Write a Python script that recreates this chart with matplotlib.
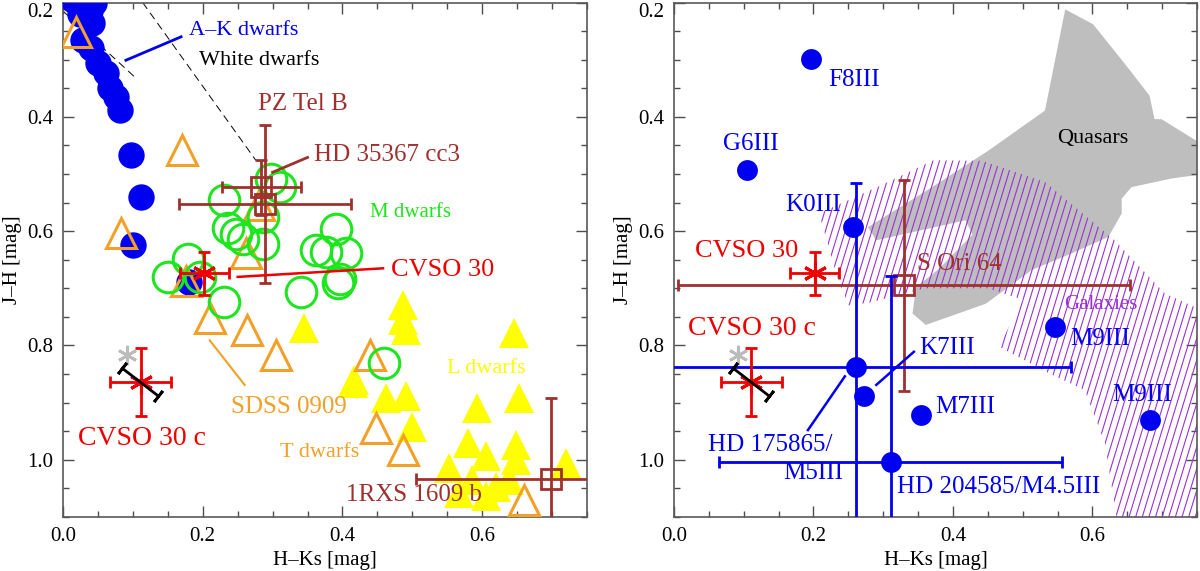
import numpy as np
import matplotlib
matplotlib.use('Agg')
import matplotlib.pyplot as plt
from matplotlib.patches import Polygon

plt.rcParams['font.family'] = ['Liberation Serif', 'DejaVu Serif']

# ---------------- left panel: dwarf sequences ----------------
ak_hk = [0.015, 0.045, 0.024, 0.038, 0.042, 0.029, 0.040, 0.050, 0.062, 0.067,
         0.076, 0.081, 0.098, 0.112, 0.100, 0.181]
ak_jh = [0.195, 0.200, 0.220, 0.215, 0.235, 0.266, 0.280, 0.305, 0.324, 0.350,
         0.365, 0.388, 0.467, 0.540, 0.625, 0.689]

m_hk = [0.298, 0.310, 0.231, 0.286, 0.236, 0.247, 0.257, 0.286, 0.391, 0.362,
        0.377, 0.405, 0.396, 0.341, 0.179, 0.150, 0.196, 0.231, 0.460, 0.393]
m_jh = [0.508, 0.523, 0.546, 0.575, 0.595, 0.605, 0.613, 0.622, 0.596, 0.633,
        0.636, 0.639, 0.683, 0.706, 0.648, 0.680, 0.680, 0.724, 0.831, 0.691]

t_hk = [0.019, 0.170, 0.083, 0.281, 0.262, 0.176, 0.210, 0.264, 0.305, 0.439,
        0.448, 0.486, 0.660]
t_jh = [0.252, 0.458, 0.603, 0.555, 0.639, 0.688, 0.752, 0.773, 0.816, 0.817,
        0.945, 0.983, 1.070]

l_hk = [0.486, 0.486, 0.491, 0.345, 0.646, 0.417, 0.462, 0.491, 0.500, 0.593,
        0.653, 0.553, 0.579, 0.605, 0.586, 0.620, 0.648, 0.648, 0.639, 0.720,
        0.567, 0.605, 0.415]
l_jh = [0.730, 0.756, 0.773, 0.770, 0.779, 0.860, 0.892, 0.889, 0.943, 0.910,
        0.892, 1.015, 0.971, 0.994, 1.035, 1.047, 0.974, 1.000, 1.035, 1.006,
        1.058, 1.064, 0.866]

# white dwarf tracks (dashed)
wd1_hk = [0.114, 0.276]
wd1_jh = [0.200, 0.476]
wd2_hk = [0.000, 0.105]
wd2_jh = [0.215, 0.333]

# brown companions: PZ Tel B, HD 35367 cc3, 1RXS 1609 b
comp_hk = [0.289, 0.284, 0.698]
comp_jh = [0.552, 0.523, 1.033]
comp_hkerr = [0.123, 0.057, 0.193]
comp_jherr = [0.138, 0.048, 0.141]

# CVSO 30 and CVSO 30 c
cvso_hk = [0.202, 0.111]
cvso_jh = [0.674, 0.864]
cvso_hkerr = [0.035, 0.044]
cvso_jherr = [0.038, 0.060]
cvso_c_vec_hk = [0.085, 0.136]
cvso_c_vec_jh = [0.840, 0.888]
grey_hk = [0.092]
grey_jh = [0.816]

# ---------------- right panel: giants, quasars, galaxies ----------------
giant_names = ['F8III', 'G6III', 'K0III', 'HD 175865', 'K7III', 'M7III',
               'M9III', 'M9III b', 'HD 204585']
giant_hk = [0.196, 0.105, 0.257, 0.261, 0.273, 0.354, 0.547, 0.683, 0.311]
giant_jh = [0.298, 0.493, 0.592, 0.837, 0.889, 0.921, 0.767, 0.930, 1.003]
giant_err_hk = [0.261, 0.311]
giant_err_jh = [0.837, 1.003]
giant_hkerr = [0.309, 0.246]
giant_jherr = [0.321, 0.324]

sori_hk = [0.330]
sori_jh = [0.695]
sori_hkerr = [0.324]
sori_jherr = [0.185]

quasar_hk = [0.278, 0.370, 0.451, 0.532, 0.561, 0.601, 0.647, 0.682, 0.689, 0.699,
             0.760, 0.760, 0.713, 0.656, 0.642, 0.642, 0.623, 0.570, 0.513, 0.447,
             0.361, 0.342, 0.347, 0.380, 0.428, 0.418, 0.290]
quasar_jh = [0.593, 0.523, 0.459, 0.389, 0.212, 0.238, 0.308, 0.363, 0.404, 0.404,
             0.450, 0.500, 0.508, 0.523, 0.543, 0.569, 0.610, 0.639, 0.668, 0.727,
             0.764, 0.744, 0.698, 0.666, 0.606, 0.581, 0.616]

galaxy_hk = [0.208, 0.293, 0.372, 0.442, 0.532, 0.632, 0.704, 0.760, 0.760, 0.637,
             0.618, 0.589, 0.540, 0.466, 0.500, 0.450, 0.360, 0.280, 0.250, 0.234]
galaxy_jh = [0.569, 0.522, 0.476, 0.477, 0.514, 0.616, 0.709, 0.740, 1.120, 1.120,
             0.971, 0.878, 0.850, 0.802, 0.720, 0.700, 0.700, 0.725, 0.730, 0.680]

BLUE = '#0000F0'
GREEN = '#1EE61E'
ORANGE = '#F2A028'
YELLOW = '#FFFF00'
BROWN = '#A0302E'
RED = '#EE0000'
PURPLE = '#9B30D9'
GREYFILL = '#BEBEBE'


def style_axes(ax):
    ax.set_xlim(0, 0.75)
    ax.set_ylim(1.1, 0.2)
    ax.set_xticks([0.0, 0.2, 0.4, 0.6])
    ax.set_xticks(np.arange(0, 0.76, 0.05), minor=True)
    ax.set_yticks([0.2, 0.4, 0.6, 0.8, 1.0])
    ax.set_yticks(np.arange(0.2, 1.11, 0.05), minor=True)
    ax.set_xticklabels(['0.0', '0.2', '0.4', '0.6'])
    ax.set_yticklabels(['0.2', '0.4', '0.6', '0.8', '1.0'])
    ax.get_yticklabels()[0].set_va('top')
    ax.tick_params(which='both', direction='in', top=True, right=True,
                   labelsize=15, color='0.3', pad=7)
    ax.tick_params(which='major', length=8, width=1)
    ax.tick_params(which='minor', length=4, width=1)
    for sp in ax.spines.values():
        sp.set_color('0.35')
        sp.set_linewidth(1.2)
    ax.set_xlabel('H\u2013Ks [mag]', fontsize=15, labelpad=4)
    ax.set_ylabel('J\u2013H [mag]', fontsize=15, labelpad=4)


def draw_cvso(ax):
    ax.plot(grey_hk, grey_jh, ls='none', marker=(6, 2, 0), ms=14, mew=2,
            color='#BBBBBB', zorder=6)
    ax.errorbar(cvso_hk, cvso_jh, xerr=cvso_hkerr, yerr=cvso_jherr, fmt='none',
                ecolor=RED, elinewidth=2, capsize=4, capthick=2, zorder=7)
    ax.plot(cvso_hk, cvso_jh, ls='none', marker=(6, 2, 0), ms=17, mew=2.2,
            color=RED, zorder=8)
    ax.plot(cvso_c_vec_hk, cvso_c_vec_jh, color='black', lw=2, zorder=9)
    ax.plot(cvso_c_vec_hk, cvso_c_vec_jh, ls='none', marker=(2, 2, -38),
            ms=10, mew=2, color='black', zorder=9)


def left_panel(ax):
    ax.plot(wd1_hk, wd1_jh, color='black', lw=0.7, ls=(0, (8, 5)), zorder=1)
    ax.plot(wd2_hk, wd2_jh, color='black', lw=0.7, ls=(0, (8, 5)), zorder=1)
    ax.plot(l_hk, l_jh, ls='none', marker='^', ms=21, color=YELLOW, mew=0, zorder=2)
    ax.plot(ak_hk, ak_jh, ls='none', marker='o', ms=19, color=BLUE, mew=0, zorder=3)
    ax.plot(t_hk, t_jh, ls='none', marker='^', ms=22, mfc='none', mec=ORANGE,
            mew=2.2, zorder=4)
    ax.plot(m_hk, m_jh, ls='none', marker='o', ms=22, mfc='none', mec=GREEN,
            mew=2.2, zorder=5)
    ax.errorbar(comp_hk, comp_jh, xerr=comp_hkerr, yerr=comp_jherr, fmt='none',
                ecolor=BROWN, elinewidth=2, capsize=4, capthick=2, zorder=6)
    ax.plot(comp_hk, comp_jh, ls='none', marker='s', ms=15, mfc='none', mec=BROWN,
            mew=2, zorder=6)
    draw_cvso(ax)

    # pointers
    ax.plot([0.090, 0.169], [0.301, 0.260], color=BLUE, lw=2, zorder=9)
    ax.plot([0.300, 0.350], [0.497, 0.471], color=BROWN, lw=2, zorder=9)
    ax.plot([0.250, 0.458], [0.680, 0.665], color=RED, lw=1.8, zorder=9)
    ax.plot([0.210, 0.260], [0.791, 0.869], color=ORANGE, lw=1.5, zorder=9)

    txt = [('A\u2013K dwarfs', 0.181, 0.249, BLUE, 16),
           ('White dwarfs', 0.195, 0.301, 'black', 16),
           ('PZ Tel B', 0.279, 0.377, BROWN, 18),
           ('HD 35367 cc3', 0.359, 0.467, BROWN, 18),
           ('M dwarfs', 0.439, 0.568, GREEN, 15),
           ('CVSO 30', 0.469, 0.668, RED, 19),
           ('SDSS 0909', 0.241, 0.907, ORANGE, 18),
           ('CVSO 30 c', 0.021, 0.962, RED, 20),
           ('T dwarfs', 0.310, 0.987, ORANGE, 16),
           ('L dwarfs', 0.550, 0.840, YELLOW, 16),
           ('1RXS 1609 b', 0.405, 1.061, BROWN, 18)]
    for s, x, y, c, fs in txt:
        ax.text(x, y, s, color=c, fontsize=fs, ha='left', va='center', zorder=10)
    style_axes(ax)


def right_panel(ax):
    quasars = Polygon(np.column_stack([quasar_hk, quasar_jh]), closed=True,
                      facecolor=GREYFILL, edgecolor='none', zorder=1)
    ax.add_patch(quasars)
    galaxies = Polygon(np.column_stack([galaxy_hk, galaxy_jh]), closed=True,
                       facecolor='none', edgecolor='none', zorder=2)
    ax.add_patch(galaxies)
    # steep purple hatching clipped to the galaxy region
    for x0 in np.arange(-0.35, 0.80, 0.0095):
        ln, = ax.plot([x0, x0 + 0.235], [1.12, 0.18], color=PURPLE, lw=0.8,
                      zorder=2)
        ln.set_clip_path(galaxies)

    ax.errorbar(sori_hk, sori_jh, xerr=sori_hkerr, yerr=sori_jherr, fmt='none',
                ecolor=BROWN, elinewidth=2, capsize=4, capthick=2, zorder=4)
    ax.plot(sori_hk, sori_jh, ls='none', marker='s', ms=15, mfc='none', mec=BROWN,
            mew=2, zorder=4)
    ax.errorbar(giant_err_hk, giant_err_jh, xerr=giant_hkerr, yerr=giant_jherr,
                fmt='none', ecolor=BLUE, elinewidth=2, capsize=4, capthick=2,
                zorder=5)
    ax.plot(giant_hk, giant_jh, ls='none', marker='o', ms=15, color=BLUE, mew=0,
            zorder=6)
    draw_cvso(ax)

    ax.plot([0.192, 0.245], [0.948, 0.854], color=BLUE, lw=1.8, zorder=9)
    ax.plot([0.290, 0.344], [0.869, 0.811], color=BLUE, lw=1.8, zorder=9)

    txt = [('F8III', 0.221, 0.336, BLUE, 18, 'left'),
           ('G6III', 0.070, 0.447, BLUE, 18, 'left'),
           ('K0III', 0.160, 0.554, BLUE, 18, 'left'),
           ('Quasars', 0.549, 0.438, 'black', 16, 'left'),
           ('CVSO 30', 0.030, 0.635, RED, 19, 'left'),
           ('S Ori 64', 0.349, 0.657, BROWN, 18, 'left'),
           ('Galaxies', 0.559, 0.728, PURPLE, 15, 'left'),
           ('CVSO 30 c', 0.020, 0.770, RED, 20, 'left'),
           ('M9III', 0.568, 0.788, BLUE, 18, 'left'),
           ('K7III', 0.351, 0.805, BLUE, 18, 'left'),
           ('M9III', 0.628, 0.887, BLUE, 18, 'left'),
           ('M7III', 0.375, 0.907, BLUE, 18, 'left'),
           ('HD 175865/', 0.049, 0.974, BLUE, 18, 'left'),
           ('M5III', 0.242, 1.023, BLUE, 18, 'right'),
           ('HD 204585/M4.5III', 0.320, 1.047, BLUE, 18, 'left')]
    for s, x, y, c, fs, ha in txt:
        ax.text(x, y, s, color=c, fontsize=fs, ha=ha, va='center', zorder=10)
    style_axes(ax)


def main():
    fig = plt.figure(figsize=(12, 5.71), dpi=100)
    ax1 = fig.add_axes([0.0525, 0.0946, 0.4367, 0.901])
    ax2 = fig.add_axes([0.5617, 0.0946, 0.4358, 0.901])
    left_panel(ax1)
    right_panel(ax2)
    fig.savefig('out.png', dpi=100)
    plt.close(fig)


if __name__ == '__main__':
    main()
